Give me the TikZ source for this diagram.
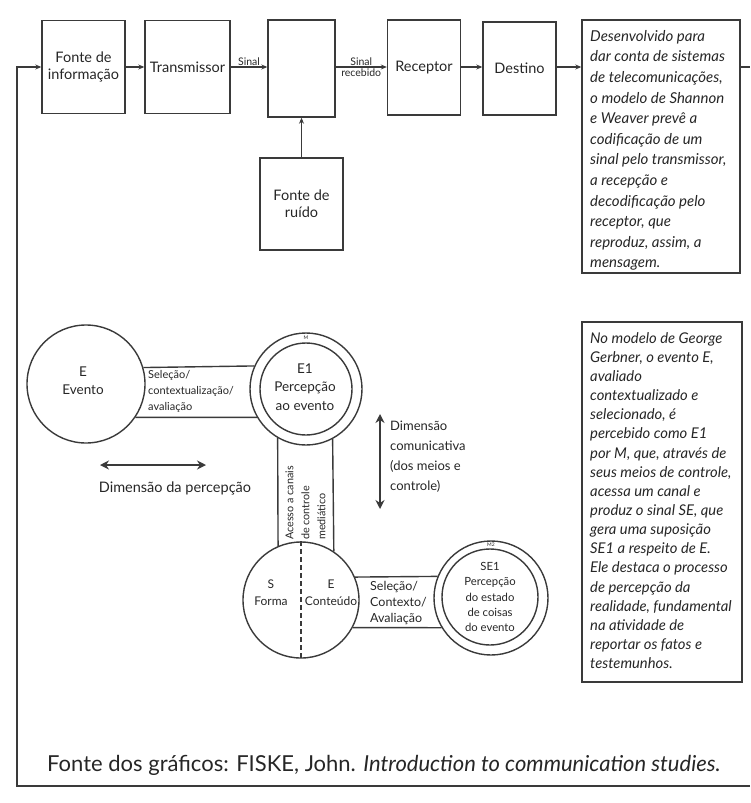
\documentclass[tikz,border=0pt]{standalone}
\usepackage{fontspec}
\setmainfont{Lato}
\usetikzlibrary{arrows.meta}
\definecolor{ink}{HTML}{3A3A3A}
\definecolor{txt}{HTML}{262626}
\tikzset{
  lw/.style={line width=1.4pt, draw=ink},
  blockbox/.style={lw, rectangle, inner sep=0pt, align=center, text=txt,
    font=\fontsize{14.5}{17}\selectfont},
  notebox/.style={lw, rectangle, inner sep=0pt, text=txt},
  notetext/.style={align=left, text=txt, inner sep=0pt, font=\itshape\fontsize{15}{20.6}\selectfont},
  bubble/.style={lw, circle, inner sep=0pt, text=txt, align=center},
  arr/.style={lw, -{Stealth[length=6pt,width=5pt]}},
  dimarr/.style={line width=2pt, draw=ink, {Stealth[length=9pt,width=9pt]}-{Stealth[length=9pt,width=9pt]}},
  bandtext/.style={align=left, text=txt, font=\fontsize{11}{16}\selectfont, inner sep=0pt},
  tiny/.style={text=txt, font=\fontsize{5}{5}\selectfont, inner sep=0pt},
  sig/.style={text=txt, font=\fontsize{10.5}{11}\selectfont, inner sep=1pt},
}
\begin{document}
\begin{tikzpicture}[x=1pt, y=-1pt]
\useasboundingbox (0,0) rectangle (750,803);

% ---- Shannon & Weaver chain ----
\node[blockbox, minimum width=83pt, minimum height=93pt] (fonte) at (83.5,67) {Fonte de\\informação};
\node[blockbox, minimum width=85pt, minimum height=93pt] (trans) at (187.5,67) {Transmissor};
\node[blockbox, minimum width=67pt, minimum height=97pt] (canal) at (301.5,68.5) {};
\node[blockbox, minimum width=73pt, minimum height=95pt] (recep) at (424,67.5) {Receptor};
\node[blockbox, minimum width=73pt, minimum height=93pt] (dest) at (519.5,68.5) {Destino};
\node[blockbox, minimum width=83pt, minimum height=92pt] (ruido) at (301.5,204) {Fonte de\\ruído};

\node[notebox, minimum width=158pt, minimum height=253pt] (nota1) at (661,146.5) {};
\node[notetext, anchor=north west] (nota1t) at (590,30)
  {Desenvolvido para\\dar conta de sistemas\\de telecomunicações,\\o modelo de Shannon\\e Weaver prevê a\\codificação de um\\sinal pelo transmissor,\\a recepção e\\decodificação pelo\\receptor, que\\reproduz, assim, a\\mensagem.};

\coordinate (sy) at (0,67);
\draw[arr] (fonte.east |- sy) -- (trans.west |- sy);
\draw[arr] (trans.east |- sy) -- node[sig, above] (s1) {Sinal} (canal.west |- sy);
\draw[arr] (canal.east |- sy) -- node[sig, above] (s2) {Sinal} node[sig, below] (s3) {recebido} (recep.west |- sy);
\draw[arr] (recep.east |- sy) -- (dest.west |- sy);
\draw[arr] (dest.east |- sy) -- (nota1.west |- sy);
\draw[arr] (ruido.north) -- (canal.south);

% feedback frame round the page
\coordinate (fbtop) at (17,67);
\coordinate (fbbot) at (17,786);
\coordinate (brc) at (750,786);
\coordinate (rout) at (750,67);
\draw[lw] (nota1.east |- rout) -- (rout);
\draw[arr] (brc) -- (fbbot) -- (fbtop) -- (fonte.west |- fbtop);

% ---- Gerbner model ----
\node[bubble, minimum size=118pt] (ev) at (86,384) {};
\node[text=txt, align=center, font=\fontsize{13.5}{18}\selectfont] (evt) at (83,381) {E\\Evento};

\node[bubble, minimum size=112pt] (e1o) at (306,389) {};
\node[bubble, minimum size=92pt] (e1i) at (306,389) {};
\node[text=txt, align=center, font=\fontsize{13.5}{18.5}\selectfont] (e1t) at (305,387) {E1\\Percepção\\ao evento};
\node[tiny] (m1) at (306,338) {M};

\node[bubble, minimum size=116pt] (se) at (301,600) {};
\draw[lw, dash pattern=on 5pt off 3pt] (se.north) -- (se.south);
\node[text=txt, align=center, font=\fontsize{12}{17}\selectfont] (st) at (271,593) {S\\Forma};
\node[text=txt, align=center, font=\fontsize{12}{17}\selectfont] (ct) at (331,593) {E\\Conteúdo};

\node[bubble, minimum size=114pt] (se1o) at (491,598) {};
\node[bubble, minimum size=96pt] (se1i) at (490,597) {};
\node[text=txt, align=center, font=\fontsize{11.3}{15.3}\selectfont] (se1t) at (490,597) {SE1\\Percepção\\do estado\\de coisas\\do evento};
\node[tiny] (m2) at (491,544.5) {M2};

% bands joining the circles
\draw[lw] (ev.16.7) -- (e1o.156.9);
\draw[lw] (ev.-34) -- (e1o.210);
\node[bandtext, anchor=west] (b1) at (148,391) {Seleção/\\contextualização/\\avaliação};

\draw[lw] (e1o.240) -- (se.113.4);
\draw[lw] (e1o.298.8) -- (se.56.5);
\node[bandtext, rotate=90, anchor=west, font=\fontsize{10.8}{16}\selectfont] (b2) at (305.5,540) {Acesso a canais\\de controle\\mediático};

\draw[lw] (se.23.4) -- (se1o.158.4);
\draw[lw] (se.-28.9) -- (se1o.211.8);
\node[bandtext, anchor=west, font=\fontsize{12.5}{16}\selectfont] (b3) at (370,603) {Seleção/\\Contexto/\\Avaliação};

% dimension arrows
\coordinate (dl) at (100,465);
\coordinate (dr) at (206,465);
\draw[dimarr] (dl) -- (dr);
\node[text=txt, font=\fontsize{14.5}{15}\selectfont] (dlab) at (175,488) {Dimensão da percepção};

\coordinate (du) at (380,414);
\coordinate (dd) at (380,509);
\draw[dimarr] (du) -- (dd);
\node[text=txt, align=left, anchor=north west, inner sep=0pt, font=\fontsize{13}{20}\selectfont] (dclab) at (390,421) {Dimensão\\comunicativa\\(dos meios e\\controle)};

% second note
\node[notebox, minimum width=160pt, minimum height=360pt] (nota2) at (662,502) {};
\node[notetext, anchor=north west, font=\itshape\fontsize{14.8}{19.15}\selectfont] (nota2t) at (590,332)
  {No modelo de George\\Gerbner, o evento E,\\avaliado\\contextualizado e\\selecionado, é\\percebido como E1\\por M, que, através de\\seus meios de controle,\\acessa um canal e\\produz o sinal SE, que\\gera uma suposição\\SE1 a respeito de E.\\Ele destaca o processo\\de percepção da\\realidade, fundamental\\na atividade de\\reportar os fatos e\\testemunhos.};

% source line
\node[text=txt, anchor=west, inner sep=0pt, font=\fontsize{22}{24}\selectfont] (fonte2) at (47,765)
  {Fonte dos gráficos: FISKE, John. \textit{Introduction to communication studies.}};
\end{tikzpicture}
\end{document}
